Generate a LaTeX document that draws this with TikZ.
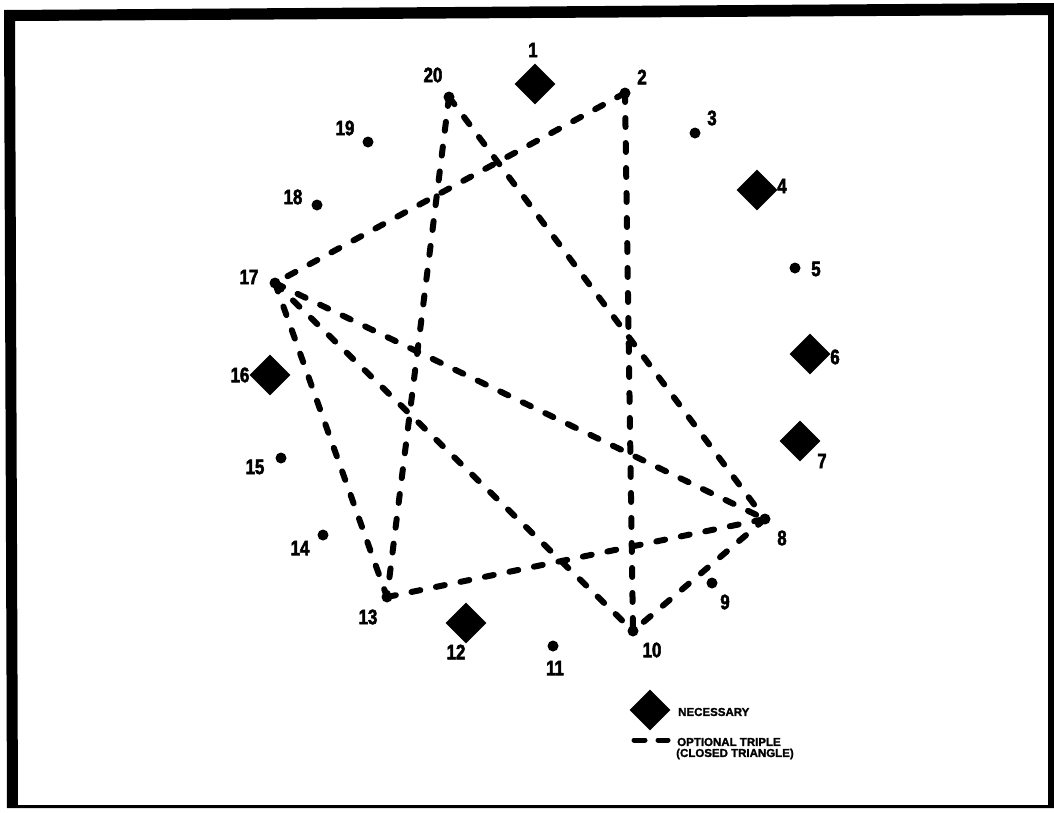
\documentclass[tikz,border=0pt]{standalone}
\usepackage{fontspec}
\setmainfont{Liberation Sans}[BoldFeatures={FakeBold=1.5}]
\newfontfamily\labfont{Liberation Sans}[FakeStretch=0.8,BoldFeatures={FakeBold=2.5}]
\usetikzlibrary{shapes.geometric}
\tikzset{
  dot/.style={circle, fill=black, inner sep=0pt, minimum size=11pt},
  nec/.style={diamond, fill=black, inner sep=0pt, minimum width=41pt, minimum height=41pt},
  lab/.style={inner sep=0pt, font=\labfont\fontsize{21}{21}\selectfont\bfseries},
  opt/.style={line width=6pt, line cap=round, dash pattern=on 9pt off 16pt},
  legtext/.style={inner sep=0pt, anchor=west, font=\fontsize{11.5}{12}\selectfont\bfseries}
}
\begin{document}
\begin{tikzpicture}[x=1pt,y=-1pt]
\useasboundingbox (0,0) rectangle (1054,812);
\fill[white] (0,0) rectangle (1054,812);
% frame
\fill[black, even odd rule] (4,10) -- (1054,3) -- (1054,808) -- (7,808) -- cycle
  (15,21) -- (1048,15) -- (1048,805) -- (18,805) -- cycle;
% points
\node[nec] (n1) at (535,84) {};
\node[dot] (n2) at (625,93) {};
\node[dot] (n3) at (695,133) {};
\node[nec] (n4) at (757,190) {};
\node[dot] (n5) at (795,268) {};
\node[nec] (n6) at (810,354) {};
\node[nec] (n7) at (800,441) {};
\node[dot] (n8) at (765,519) {};
\node[dot] (n9) at (712,583) {};
\node[dot] (n10) at (633,631) {};
\node[dot] (n11) at (553,646) {};
\node[nec] (n12) at (466,623) {};
\node[dot] (n13) at (387,597) {};
\node[dot] (n14) at (323,535) {};
\node[dot] (n15) at (281,458) {};
\node[nec] (n16) at (270,375) {};
\node[dot] (n17) at (275,283) {};
\node[dot] (n18) at (317,205) {};
\node[dot] (n19) at (368,142) {};
\node[dot] (n20) at (449,97) {};
% labels
\node[lab] (l1) at (533,50) {1};
\node[lab] (l2) at (642,77) {2};
\node[lab] (l3) at (712,118) {3};
\node[lab] (l4) at (782,186) {4};
\node[lab] (l5) at (816,269) {5};
\node[lab] (l6) at (835,357) {6};
\node[lab] (l7) at (822,461) {7};
\node[lab] (l8) at (782,538) {8};
\node[lab] (l9) at (725,602) {9};
\node[lab] (l10) at (652,650) {10};
\node[lab] (l11) at (555,668) {11};
\node[lab] (l12) at (456,652) {12};
\node[lab] (l13) at (368,617) {13};
\node[lab] (l14) at (300,548) {14};
\node[lab] (l15) at (255,467) {15};
\node[lab] (l16) at (240,375) {16};
\node[lab] (l17) at (249,277) {17};
\node[lab] (l18) at (293,197) {18};
\node[lab] (l19) at (345,128) {19};
\node[lab] (l20) at (433,75) {20};
% optional triples
\draw[opt] (n20.center) -- (n8.center);
\draw[opt] (n20.center) -- (n13.center);
\draw[opt] (n13.center) -- (n8.center);
\draw[opt] (n2.center) -- (n17.center);
\draw[opt] (n2.center) -- (n10.center);
\draw[opt] (n17.center) -- (n10.center);
\draw[opt] (n17.center) -- (n13.center);
\draw[opt] (n17.center) -- (n8.center);
\draw[opt] (n8.center) -- (n10.center);
% legend
\node[nec] (lg1) at (650,710) {};
\node[legtext] (lgt1) at (678,712) {NECESSARY};
\coordinate (lda) at (634,740);
\coordinate (ldb) at (668,740);
\draw[line width=5pt, line cap=round, dash pattern=on 11pt off 13pt] (lda) -- (ldb);
\node[legtext] (lgt2) at (677,742) {OPTIONAL TRIPLE};
\node[legtext] (lgt3) at (676,754) {(CLOSED TRIANGLE)};
\end{tikzpicture}
\end{document}
